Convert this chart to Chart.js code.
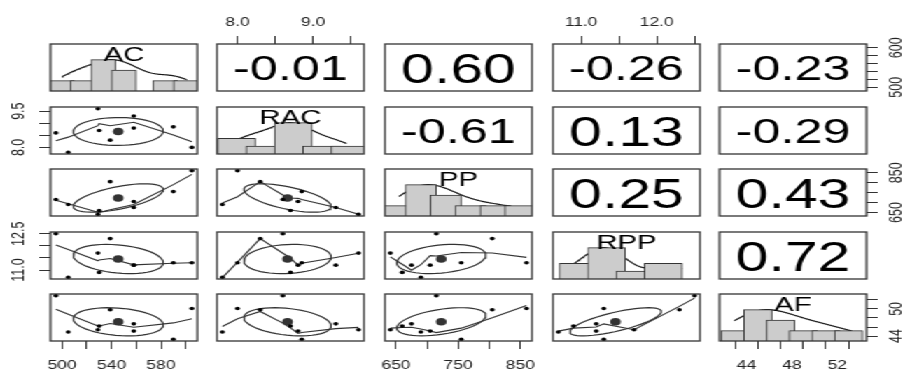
<!DOCTYPE html>
<html>
<head>
<meta charset="utf-8">
<script src="https://cdn.jsdelivr.net/npm/chart.js@4.4.1/dist/chart.umd.min.js"></script>
<style>
  html, body { margin: 0; padding: 0; background: #fff; overflow: hidden; }
  /* the reference is stretched sideways, so draw narrow and widen */
  #wrap { position: absolute; left: 0; top: 0; width: 649px; height: 369px; transform: scaleX(1.4); transform-origin: 0 0; }
  #wrap canvas { position: absolute; }
</style>
</head>
<body>
<div id="wrap"></div>
<script>
// Observations (9 cases)
const names = ['AC', 'RAC', 'PP', 'RPP', 'AF'];
const AC  = [495, 505, 529, 530, 539, 558, 558, 590, 605];
const RAC = [8.6, 7.8, 9.6, 8.7, 8.3, 9.3, 8.8, 8.85, 8.0];
const PP  = [715, 690, 641, 660, 805, 675, 705, 755, 860];
const RPP = [12.5, 10.7, 11.7, 10.9, 12.3, 11.2, 11.2, 11.3, 11.3];
const AF  = [52.9, 44.9, 45.4, 46.2, 49.8, 46.7, 45.1, 43.3, 50.1];

// Histogram breaks
const acBreaks  = [480, 500, 520, 540, 560, 580, 600, 620];
const racBreaks = [7.5, 8.0, 8.5, 9.0, 9.5, 10.0];
const ppBreaks  = [600, 650, 700, 750, 800, 850, 900];
const rppBreaks = [10.5, 11.0, 11.5, 12.0, 12.5];
const afBreaks  = [42, 44, 46, 48, 50, 52, 54];

// Axis ticks and the labels R kept
const acTicks  = [500, 520, 540, 560, 580, 600];
const acLabelsX = ['500', '', '540', '', '580', ''];
const acLabelsY = ['500', '', '', '', '', '600'];
const racTicks = [8.0, 8.5, 9.0, 9.5];
const racLabelsX = ['8.0', '', '9.0', ''];
const racLabelsY = ['8.0', '', '', '9.5'];
const ppTicks  = [650, 700, 750, 800, 850];
const ppLabelsX = ['650', '', '750', '', '850'];
const ppLabelsY = ['650', '', '', '', '850'];
const rppTicks = [11.0, 11.5, 12.0, 12.5];
const rppLabelsX = ['11.0', '', '12.0', ''];
const rppLabelsY = ['11.0', '', '', '12.5'];
const afTicks  = [44, 46, 48, 50, 52];
const afLabelsX = ['44', '', '48', '', '52'];
const afLabelsY = ['44', '', '', '50', ''];

// Correlations printed above the diagonal
const corRow1 = ['-0.01', '0.60', '-0.26', '-0.23'];
const corRow2 = ['-0.61', '0.13', '-0.29'];
const corRow3 = ['0.25', '0.43'];
const corRow4 = ['0.72'];
const corRows = [corRow1, corRow2, corRow3, corRow4];

// Layout
const M = 40;
const PW = 105, PH = 47;
const colLeft = [36, 155, 275, 395, 514];
const rowTop = [44, 107, 169, 232, 294];
const FONT = "'Liberation Sans', Arial, sans-serif";
const TICK = 8;

const vars = [
    { name: names[0], data: AC,  breaks: acBreaks,  ticks: acTicks,  xLab: acLabelsX,  yLab: acLabelsY },
    { name: names[1], data: RAC, breaks: racBreaks, ticks: racTicks, xLab: racLabelsX, yLab: racLabelsY },
    { name: names[2], data: PP,  breaks: ppBreaks,  ticks: ppTicks,  xLab: ppLabelsX,  yLab: ppLabelsY },
    { name: names[3], data: RPP, breaks: rppBreaks, ticks: rppTicks, xLab: rppLabelsX, yLab: rppLabelsY },
    { name: names[4], data: AF,  breaks: afBreaks,  ticks: afTicks,  xLab: afLabelsX,  yLab: afLabelsY }
];
vars.forEach(v => {
    const lo = Math.min(...v.data), hi = Math.max(...v.data), pad = 0.04 * (hi - lo);
    v.min = lo - pad;
    v.max = hi + pad;
});

// --- small stats helpers (same things pairs.panels uses) ---
const mean = a => a.reduce((s, v) => s + v, 0) / a.length;
function sd(a) {
    const m = mean(a);
    return Math.sqrt(a.reduce((s, v) => s + (v - m) ** 2, 0) / (a.length - 1));
}
function cor(x, y) {
    const mx = mean(x), my = mean(y);
    let sxy = 0, sxx = 0, syy = 0;
    x.forEach((v, i) => { sxy += (v - mx) * (y[i] - my); sxx += (v - mx) ** 2; syy += (y[i] - my) ** 2; });
    return sxy / Math.sqrt(sxx * syy);
}
function quantile(a, p) {
    const s = [...a].sort((u, v) => u - v);
    const h = (s.length - 1) * p, lo = Math.floor(h);
    return s[lo] + (h - lo) * (s[Math.min(lo + 1, s.length - 1)] - s[lo]);
}
function histCounts(x, br) {
    const c = new Array(br.length - 1).fill(0);
    x.forEach(v => {
        for (let i = 0; i < br.length - 1; i++) {
            if ((v > br[i] + 1e-9 || (i === 0 && v >= br[0])) && v <= br[i + 1] + 1e-9) { c[i]++; break; }
        }
    });
    return c;
}
function density(x) {
    const iqr = quantile(x, 0.75) - quantile(x, 0.25);
    const bw = 1.2 * 1.06 * Math.min(sd(x), iqr / 1.34) * Math.pow(x.length, -0.2);
    const lo = Math.min(...x) - 3 * bw, hi = Math.max(...x) + 3 * bw;
    const pts = [];
    for (let i = 0; i < 200; i++) {
        const t = lo + (hi - lo) * i / 199;
        let s = 0;
        x.forEach(v => { const z = (t - v) / bw; s += Math.exp(-0.5 * z * z); });
        pts.push({ x: t, y: s });
    }
    const mx = Math.max(...pts.map(p => p.y));
    return pts.map(p => ({ x: p.x, y: p.y / mx }));
}

// R's lowess (clowess), f = 2/3, iter = 3
function lowess(xIn, yIn) {
    const idx = xIn.map((v, i) => i).sort((a, b) => xIn[a] - xIn[b]);
    const x = idx.map(i => xIn[i]), y = idx.map(i => yIn[i]);
    const n = x.length;
    const ns = Math.max(2, Math.min(n, Math.floor(2 / 3 * n + 1e-7)));
    const range = x[n - 1] - x[0];
    const delta = 0.01 * range;
    const ys = new Array(n).fill(0), rw = new Array(n).fill(1), res = new Array(n).fill(0), w = new Array(n).fill(0);

    function lowest(xs, nleft, nright, userw) {
        const h = Math.max(xs - x[nleft], x[nright] - xs);
        const h9 = 0.999 * h, h1 = 0.001 * h;
        let a = 0, j = nleft;
        while (j < n) {
            w[j] = 0;
            const r = Math.abs(x[j] - xs);
            if (r <= h9) {
                w[j] = r <= h1 ? 1 : Math.pow(1 - Math.pow(r / h, 3), 3);
                if (userw) w[j] *= rw[j];
                a += w[j];
            } else if (x[j] > xs) break;
            j++;
        }
        const nrt = j - 1;
        if (a <= 0) return null;
        for (j = nleft; j <= nrt; j++) w[j] /= a;
        if (h > 0) {
            a = 0;
            for (j = nleft; j <= nrt; j++) a += w[j] * x[j];
            let b = xs - a, c = 0;
            for (j = nleft; j <= nrt; j++) c += w[j] * (x[j] - a) * (x[j] - a);
            if (Math.sqrt(c) > 0.001 * range) {
                b /= c;
                for (j = nleft; j <= nrt; j++) w[j] *= (b * (x[j] - a) + 1);
            }
        }
        let out = 0;
        for (j = nleft; j <= nrt; j++) out += w[j] * y[j];
        return out;
    }

    for (let iter = 1; iter <= 4; iter++) {
        let nleft = 0, nright = ns - 1, last = -1, i = 0;
        do {
            while (nright < n - 1) {
                if (x[i] - x[nleft] <= x[nright + 1] - x[i]) break;
                nleft++; nright++;
            }
            const v = lowest(x[i], nleft, nright, iter > 1);
            ys[i] = v === null ? y[i] : v;
            if (last < i - 1) {
                const denom = x[i] - x[last];
                for (let j = last + 1; j < i; j++) {
                    const alpha = (x[j] - x[last]) / denom;
                    ys[j] = alpha * ys[i] + (1 - alpha) * ys[last];
                }
            }
            last = i;
            const cut = x[last] + delta;
            for (i = last + 1; i < n; i++) {
                if (x[i] > cut) break;
                if (x[i] === x[last]) { ys[i] = ys[last]; last = i; }
            }
            i = Math.max(last + 1, i - 1);
        } while (last < n - 1);
        for (let k = 0; k < n; k++) res[k] = y[k] - ys[k];
        if (iter > 3) break;
        const ar = res.map(Math.abs);
        const sc = ar.reduce((s, v) => s + v, 0) / n;
        const sorted = [...ar].sort((a, b) => a - b);
        const m1 = Math.floor(n / 2);
        const cmad = n % 2 === 0 ? 3 * (sorted[m1] + sorted[m1 - 1]) : 6 * sorted[m1];
        if (cmad < 1e-7 * sc) break;
        const c9 = 0.999 * cmad, c1 = 0.001 * cmad;
        for (let k = 0; k < n; k++) {
            const r = ar[k];
            rw[k] = r <= c1 ? 1 : r > c9 ? 0 : Math.pow(1 - (r / cmad) ** 2, 2);
        }
    }
    return x.map((v, i) => ({ x: v, y: ys[i] }));
}

// psych-style correlation ellipse (one sd)
function ellipse(x, y) {
    const xm = mean(x), ym = mean(y), xs = sd(x), ys = sd(y), r = cor(x, y);
    const th = (Math.abs(r) > 0 ? Math.sign(r) : 1) / Math.SQRT2;
    const a = Math.sqrt(1 + r) * th, b = Math.sqrt(1 - r) * th;
    const pts = [];
    for (let i = 0; i <= 51; i++) {
        const t = i * 2 * Math.PI / 51, cs = Math.cos(t), sn = Math.sin(t);
        pts.push({ x: (cs * a - sn * b) * xs + xm, y: (cs * a + sn * b) * ys + ym });
    }
    return pts;
}

// measure label widths so rotated labels sit where R put them
const mctx = document.createElement('canvas').getContext('2d');
mctx.font = '12.5px ' + FONT;
const widest = labels => Math.max(...labels.map(l => mctx.measureText(l).width));

function makeScale(v, horizontal, position, show, labels, pad) {
    return {
        type: 'linear',
        display: show,
        position: position,
        bounds: 'data',
        min: v.min,
        max: v.max,
        afterBuildTicks: s => { s.ticks = v.ticks.map(t => ({ value: t })); },
        afterFit: s => {
            if (!show) return;
            if (horizontal) s.height = M; else s.width = M;
        },
        ticks: {
            autoSkip: false,
            padding: pad,
            color: '#222',
            font: { family: FONT, size: 12.5 },
            minRotation: horizontal ? 0 : 90,
            maxRotation: horizontal ? 0 : 90,
            crossAlign: horizontal ? 'near' : 'center',
            callback: (val, i) => labels[i]
        },
        grid: { display: true, drawOnChartArea: false, drawTicks: true, tickLength: TICK, color: '#333', lineWidth: 1 },
        border: { display: false }
    };
}

function panelPlugin(r, c) {
    return {
        id: 'panel' + r + c,
        afterDraw(chart) {
            const { ctx, chartArea: a } = chart;
            const cx = a.left + a.width / 2;
            ctx.save();
            ctx.fillStyle = '#000';
            ctx.textAlign = 'center';
            ctx.textBaseline = 'alphabetic';
            if (r === c) {
                ctx.font = '21px ' + FONT;
                ctx.fillText(vars[r].name, cx, a.top + 16.5);
            } else if (r < c) {
                const txt = corRows[r][c - r - 1];
                ctx.font = '100px ' + FONT;
                const w100 = ctx.measureText(txt).width;
                const size = 0.78 * a.width * 100 / w100;
                ctx.font = size + 'px ' + FONT;
                ctx.fillText(txt, cx, a.top + a.height / 2 + 0.358 * size);
            }
            ctx.strokeStyle = '#333';
            ctx.lineWidth = 1.3;
            ctx.strokeRect(a.left, a.top, a.width, a.height);
            ctx.restore();
        }
    };
}

const wrap = document.getElementById('wrap');

for (let r = 0; r < 5; r++) {
    for (let c = 0; c < 5; c++) {
        const vx = vars[c], vy = vars[r];
        const showBottom = r === 4 && c % 2 === 0;
        const showTop = r === 0 && c % 2 === 1;
        const showLeft = c === 0 && r % 2 === 1;
        const showRight = c === 4 && r % 2 === 0;

        const canvas = document.createElement('canvas');
        canvas.width = PW + 2 * M;
        canvas.height = PH + 2 * M;
        canvas.style.left = (colLeft[c] - M) + 'px';
        canvas.style.top = (rowTop[r] - M) + 'px';
        wrap.appendChild(canvas);

        const xPad = showTop ? 6 : 9;
        const yPad = 22 - TICK - widest(vy.yLab) / 2;
        const scales = {
            x: makeScale(vx, true, showTop ? 'top' : 'bottom', showTop || showBottom, vx.xLab, xPad),
            y: makeScale(vy, false, showLeft ? 'left' : 'right', showLeft || showRight, vy.yLab, yPad)
        };

        const datasets = [];
        if (r === c) {
            scales.h = { type: 'linear', display: false, min: 0, max: 1.5 };
            const counts = histCounts(vx.data, vx.breaks);
            const maxC = Math.max(...counts);
            const bars = [];
            counts.forEach((n, i) => {
                bars.push({ x: (vx.breaks[i] + vx.breaks[i + 1]) / 2, y: n / maxC });
            });
            // one bin wide, in pixels of this panel
            const binPx = (vx.breaks[1] - vx.breaks[0]) / (vx.max - vx.min) * PW;
            datasets.push({
                type: 'bar', data: bars, xAxisID: 'x', yAxisID: 'h',
                backgroundColor: '#cccccc', borderColor: '#333', borderWidth: 1,
                barThickness: binPx, grouped: false, clip: 0
            });
            datasets.push({
                type: 'scatter', data: density(vx.data), xAxisID: 'x', yAxisID: 'h',
                showLine: true, pointRadius: 0, borderColor: '#1a1a1a', borderWidth: 1.2, clip: 0
            });
            datasets.push({
                type: 'scatter', data: vx.data.map(v => ({ x: v, y: 0 })), xAxisID: 'x', yAxisID: 'h',
                pointStyle: 'line', rotation: 90, pointRadius: 2, borderColor: '#222', borderWidth: 1, clip: 0
            });
        } else if (r > c) {
            const pts = vx.data.map((v, i) => ({ x: v, y: vy.data[i] }));
            datasets.push({
                type: 'scatter', data: pts, pointRadius: 1.8, backgroundColor: '#000', borderWidth: 0, clip: 0
            });
            datasets.push({
                type: 'scatter', data: [{ x: mean(vx.data), y: mean(vy.data) }],
                pointRadius: 3.8, backgroundColor: '#333', borderWidth: 0, clip: 0
            });
            datasets.push({
                type: 'scatter', data: ellipse(vx.data, vy.data), showLine: true, pointRadius: 0,
                borderColor: '#333', borderWidth: 1.2, clip: 0
            });
            datasets.push({
                type: 'scatter', data: lowess(vx.data, vy.data), showLine: true, pointRadius: 0,
                borderColor: '#333', borderWidth: 1.1, clip: 0
            });
        }

        new Chart(canvas, {
            type: 'scatter',
            data: { datasets: datasets },
            options: {
                responsive: false,
                animation: false,
                devicePixelRatio: 1,
                events: [],
                layout: {
                    padding: {
                        left: showLeft ? 0 : M,
                        right: showRight ? 0 : M,
                        top: showTop ? 0 : M,
                        bottom: showBottom ? 0 : M
                    }
                },
                plugins: { legend: { display: false }, tooltip: { enabled: false } },
                scales: scales
            },
            plugins: [panelPlugin(r, c)]
        });
    }
}
</script>
</body>
</html>
